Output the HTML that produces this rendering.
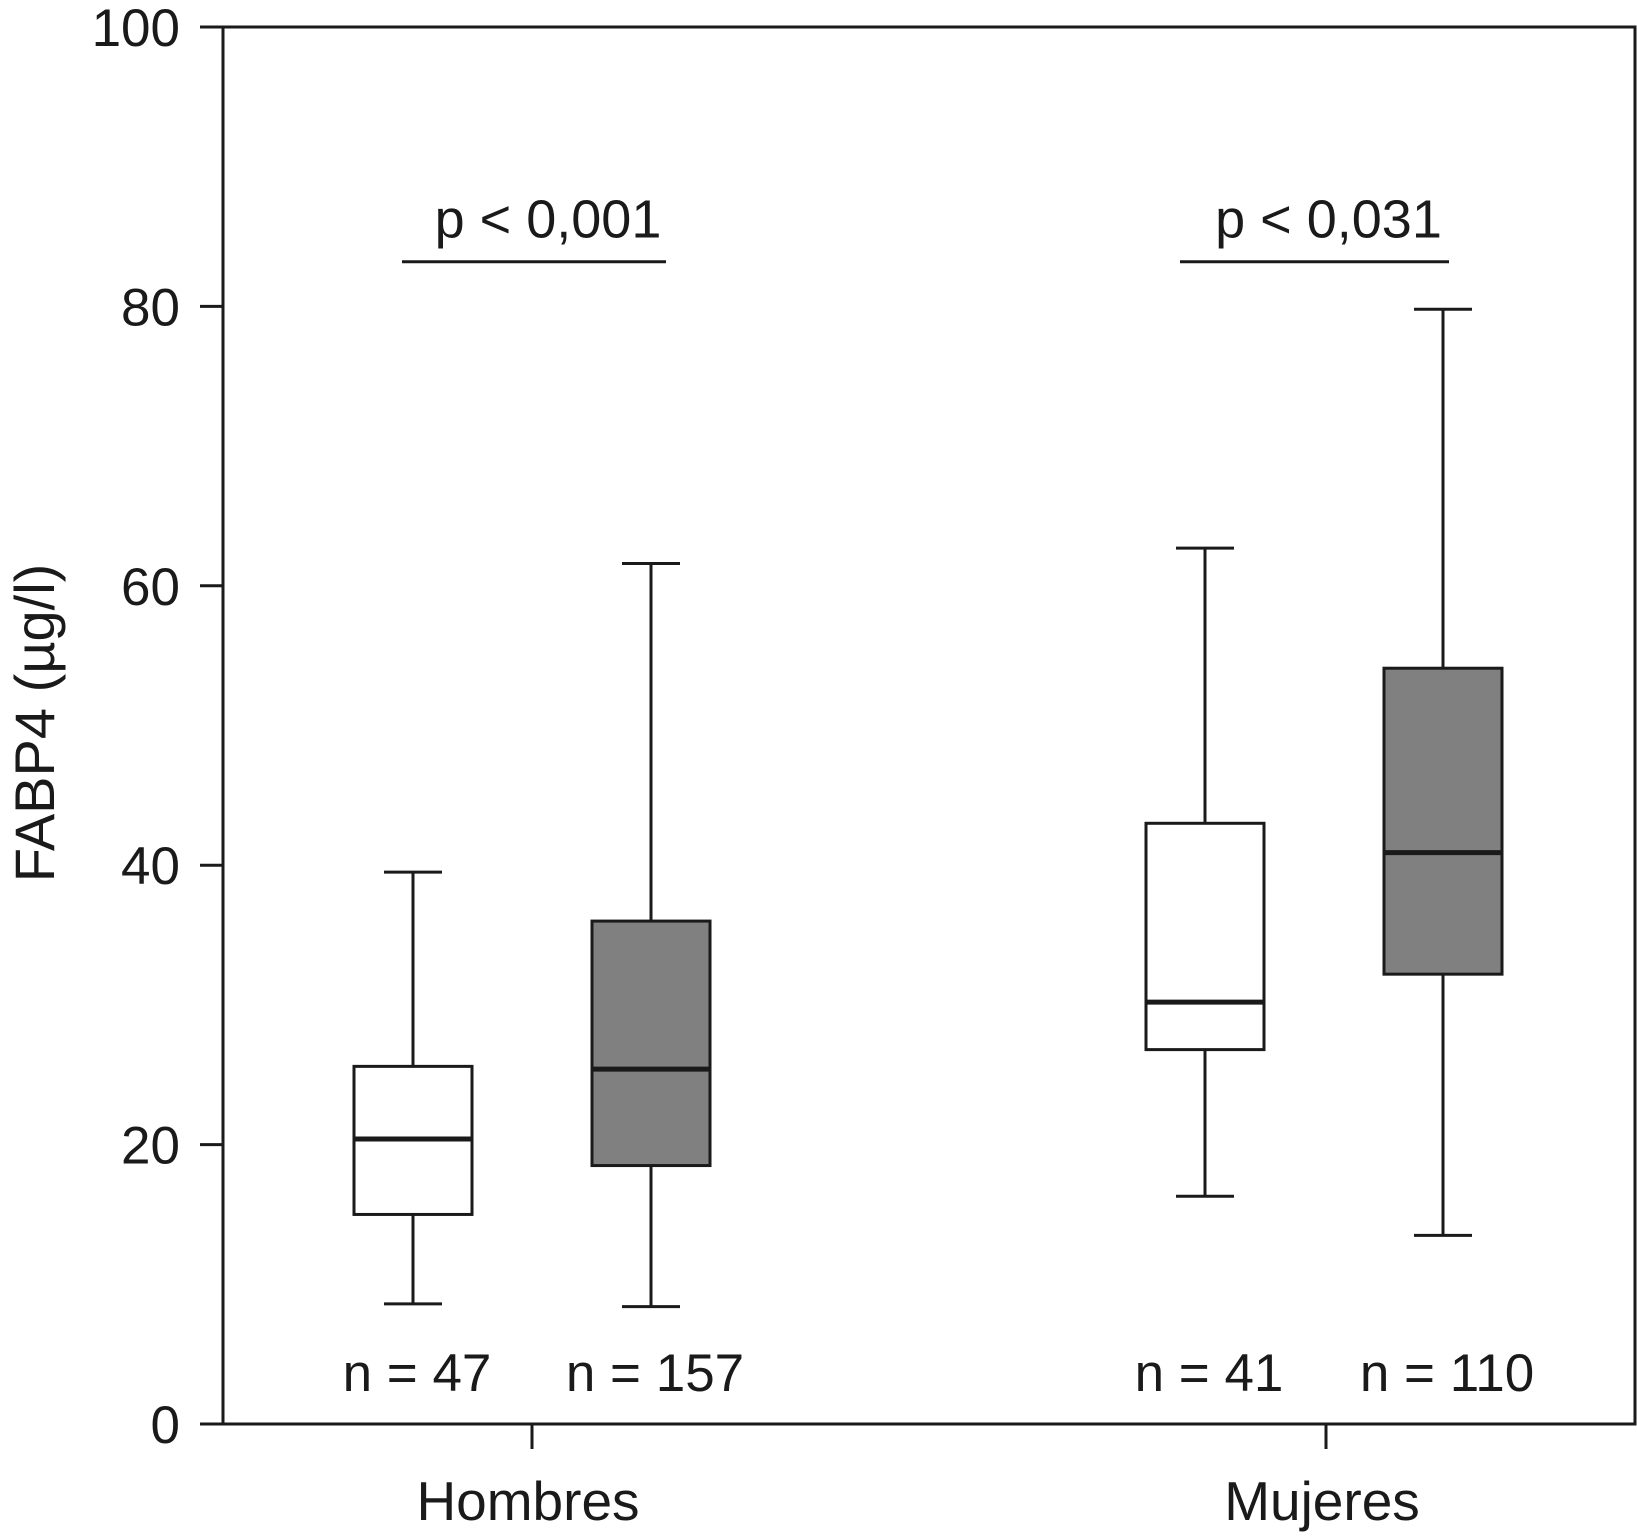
<!DOCTYPE html>
<html><head><meta charset="utf-8"><style>html,body{margin:0;padding:0;background:#fff}svg{display:block}</style></head>
<body>
<svg id="chart" width="1637" height="1538" xmlns="http://www.w3.org/2000/svg" font-family="Liberation Sans, sans-serif" fill="#1a1a1a"></svg>
<script>
const groups = ["Hombres","Mujeres"];
const boxCenters = [413, 651, 1205, 1443];
const boxFills = ["#ffffff","#808080","#ffffff","#808080"];
const whiskerLow = [8.6, 8.4, 16.3, 13.5];
const q1 = [15.0, 18.5, 26.8, 32.2];
const median = [20.4, 25.4, 30.2, 40.9];
const q3 = [25.6, 36.0, 43.0, 54.1];
const whiskerHigh = [39.5, 61.6, 62.7, 79.8];
const nLabels = ["n = 47","n = 157","n = 41","n = 110"];
const pLabels = ["p < 0,001","p < 0,031"];
const pLevel = 83.2;
const yTicks = [0,20,40,60,80,100];

const svg = document.getElementById('chart');
const NS = 'http://www.w3.org/2000/svg';
const L=223,R=1635,T=27,B=1424;
const y = v => B - (v/100)*(B-T);
const groupX = [532, 1326];
function mk(tag, at, parent){const e=document.createElementNS(NS,tag);for(const k in at)e.setAttribute(k,at[k]);(parent||svg).appendChild(e);return e;}
const ln=(x1,y1,x2,y2,w)=>mk('line',{x1,y1,x2,y2,stroke:'#1a1a1a','stroke-width':w||3});

let e=mk('rect',{x:L,y:T,width:R-L,height:B-T,fill:'none',stroke:'#1a1a1a','stroke-width':3});



yTicks.forEach(t=>{
  e=ln(L-23,y(t),L,y(t));
  
  
  e=mk('text',{x:180,y:y(t)+19,'text-anchor':'end','font-size':53});
  e.textContent=t;
  
  
});
groups.forEach((g,i)=>{
  e=ln(groupX[i],B,groupX[i],B+25);
  
  
  e=mk('text',{x:groupX[i]-4,y:1520,'text-anchor':'middle','font-size':55});
  e.textContent=g;
  
  
});
e=mk('text',{x:0,y:0,'text-anchor':'middle','font-size':56,transform:'translate(54,723) rotate(-90)'});
e.textContent='FABP4 (µg/l)';



const bw=118, cw=58;
boxCenters.forEach((cx,i)=>{
  const gEl=mk('g',{});
  
  
  mk('line',{x1:cx,y1:y(whiskerHigh[i]),x2:cx,y2:y(q3[i]),stroke:'#1a1a1a','stroke-width':3},gEl);
  mk('line',{x1:cx,y1:y(q1[i]),x2:cx,y2:y(whiskerLow[i]),stroke:'#1a1a1a','stroke-width':3},gEl);
  mk('line',{x1:cx-cw/2,y1:y(whiskerHigh[i]),x2:cx+cw/2,y2:y(whiskerHigh[i]),stroke:'#1a1a1a','stroke-width':3},gEl);
  mk('line',{x1:cx-cw/2,y1:y(whiskerLow[i]),x2:cx+cw/2,y2:y(whiskerLow[i]),stroke:'#1a1a1a','stroke-width':3},gEl);
  mk('rect',{x:cx-bw/2,y:y(q3[i]),width:bw,height:y(q1[i])-y(q3[i]),fill:boxFills[i],stroke:'#1a1a1a','stroke-width':3},gEl);
  mk('line',{x1:cx-bw/2,y1:y(median[i]),x2:cx+bw/2,y2:y(median[i]),stroke:'#1a1a1a','stroke-width':5},gEl);
  e=mk('text',{x:cx+4,y:1391,'text-anchor':'middle','font-size':53});
  e.textContent=nLabels[i];
  
  
});
pLabels.forEach((p,i)=>{
  const a=boxCenters[2*i]-11-(i?14:0), b=boxCenters[2*i+1]+15-(i?9:0);
  e=ln(a,y(pLevel),b,y(pLevel));
  
  
  e=mk('text',{x:(a+b)/2+14,y:y(pLevel)-24,'text-anchor':'middle','font-size':54});
  e.textContent=p;
  
  
});
</script>
</body></html>
